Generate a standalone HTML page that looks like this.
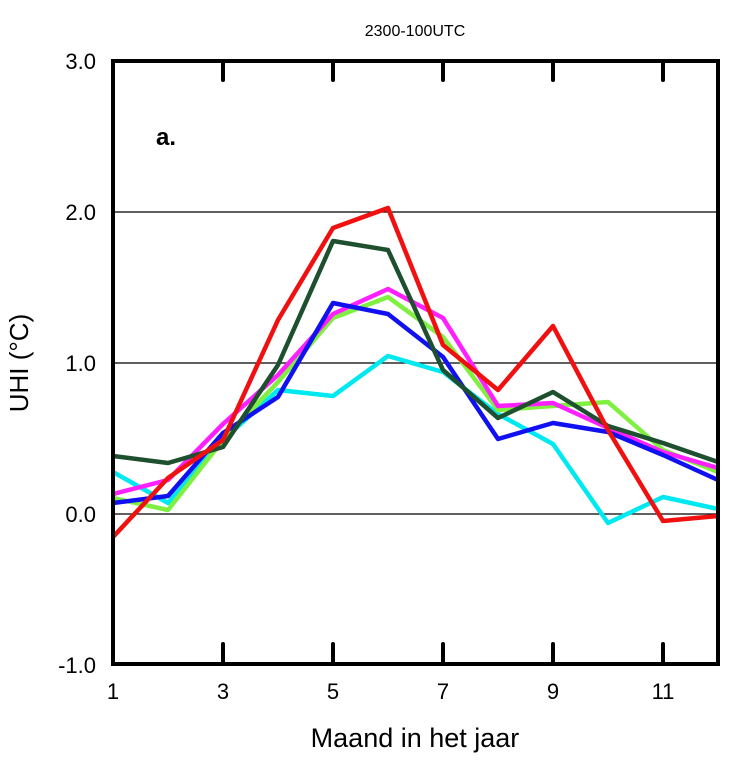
<!DOCTYPE html>
<html><head><meta charset="utf-8"><style>body{margin:0;background:#fff}</style></head><body>
<svg width="745" height="760" xmlns="http://www.w3.org/2000/svg" font-family="Liberation Sans, sans-serif">
<rect width="745" height="760" fill="#fff"/>
<text x="415" y="36" font-size="16" text-anchor="middle">2300-100UTC</text>
<g stroke="#000" stroke-width="1.3">
<line x1="113" y1="212" x2="718" y2="212"/><line x1="113" y1="363" x2="718" y2="363"/><line x1="113" y1="514" x2="718" y2="514"/>
</g>
<g fill="none" stroke-width="4.5" stroke-linejoin="round">
<polyline stroke="#00e8f0" points="113,472 168,503 223,440 278,390 333,396 388,356 443,372 498,414 553,444 608,523 663,497 718,509"/>
<polyline stroke="#80f040" points="113,498 168,510 223,440 278,382 333,318 388,297 443,337 498,410 553,406 608,402 663,450 718,472"/>
<polyline stroke="#ff20ff" points="113,494 168,480 223,424 278,375 333,314 388,289 443,318 498,406 553,403 608,428 663,452 718,468"/>
<polyline stroke="#1010f0" points="113,503 168,496 223,433 278,397 333,303 388,314 443,357 498,439 553,423 608,432 663,455 718,480"/>
<polyline stroke="#1e5030" points="113,456 168,463 223,447 278,365 333,241 388,250 443,370 498,418 553,392 608,426 663,443 718,462"/>
<polyline stroke="#f01010" points="113,537 168,478 223,440 278,320 333,228 388,208 443,345 498,390 553,326 608,430 663,521 718,516"/>
</g>
<rect x="113" y="61" width="605" height="603" fill="none" stroke="#000" stroke-width="4"/>
<g stroke="#000" stroke-width="4" stroke-linecap="round">
<line x1="223" y1="61" x2="223" y2="80"/><line x1="333" y1="61" x2="333" y2="80"/><line x1="443" y1="61" x2="443" y2="80"/><line x1="553" y1="61" x2="553" y2="80"/><line x1="663" y1="61" x2="663" y2="80"/>
<line x1="223" y1="664" x2="223" y2="644"/><line x1="333" y1="664" x2="333" y2="644"/><line x1="443" y1="664" x2="443" y2="644"/><line x1="553" y1="664" x2="553" y2="644"/><line x1="663" y1="664" x2="663" y2="644"/>
</g>
<text x="156" y="145" font-size="24" font-weight="bold">a.</text>
<g font-size="22" text-anchor="end">
<text x="96" y="69">3.0</text><text x="96" y="220">2.0</text><text x="96" y="371">1.0</text><text x="96" y="522">0.0</text><text x="96" y="673">-1.0</text>
</g>
<g font-size="22" text-anchor="middle">
<text x="113" y="699">1</text><text x="223" y="699">3</text><text x="333" y="699">5</text><text x="443" y="699">7</text><text x="553" y="699">9</text><text x="663" y="699">11</text>
</g>
<text x="415" y="747" font-size="27" text-anchor="middle">Maand in het jaar</text>
<text transform="translate(28,363) rotate(-90)" font-size="26" text-anchor="middle">UHI (°C)</text>
</svg>
</body></html>
